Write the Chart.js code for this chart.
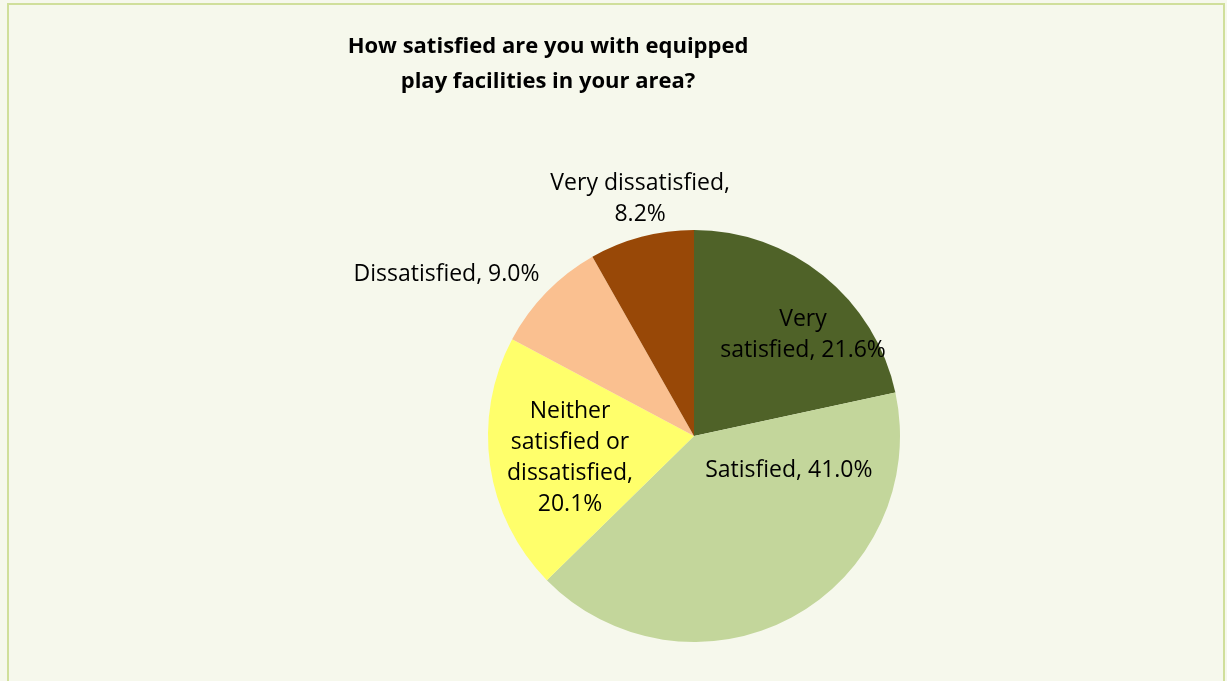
<!DOCTYPE html>
<html>
<head>
<meta charset="utf-8">
<script src="https://cdn.jsdelivr.net/npm/chart.js@4"></script>
<style>
  html, body { margin: 0; padding: 0; background: #F6F8EC; }
  #wrap { width: 1227px; height: 681px; position: relative; }
</style>
</head>
<body>
<div id="wrap"><canvas id="c" width="1227" height="681"></canvas></div>
<script>
// Survey answers, clockwise from 12 o'clock
const categories = ['Very satisfied', 'Satisfied', 'Neither satisfied or dissatisfied', 'Dissatisfied', 'Very dissatisfied'];
const shares = [21.6, 41.0, 20.1, 9.0, 8.2];
const labelLines = [
  ['Very', 'satisfied, 21.6%'],
  ['Satisfied, 41.0%'],
  ['Neither', 'satisfied or', 'dissatisfied,', '20.1%'],
  ['Dissatisfied, 9.0%'],
  ['Very dissatisfied,', '8.2%']
];
const titleLines = ['How satisfied are you with equipped', 'play facilities in your area?'];

const sliceColors = ['#4F6228', '#C3D69B', '#FFFF6B', '#FAC090', '#984807'];
// label anchor for each slice: angle (degrees clockwise from top) and distance in radii
const labelPlace = [
  { deg: 47.3, r: 0.72 },
  { deg: 110, r: 0.49 },
  { deg: 260, r: 0.611 },
  { deg: 303.2, r: 1.436 },
  { deg: 347.2, r: 1.18 }
];

const FONT = '"Open Sans", "Noto Sans", sans-serif';

const frame = {
  id: 'frame',
  beforeDraw(chart) {
    const ctx = chart.ctx;
    ctx.save();
    ctx.fillStyle = '#F6F8EC';
    ctx.fillRect(0, 0, chart.width, chart.height);
    ctx.strokeStyle = '#D0DF9B';
    ctx.lineWidth = 2;
    ctx.strokeRect(8, 4, 1216, 700);
    ctx.restore();
  },
  afterDraw(chart) {
    const ctx = chart.ctx;
    ctx.save();
    ctx.fillStyle = '#000000';
    ctx.textAlign = 'center';
    ctx.textBaseline = 'middle';
    ctx.font = 'bold 22px ' + FONT;
    titleLines.forEach((t, i) => ctx.fillText(t, 548, 47 + i * 35));

    const meta = chart.getDatasetMeta(0);
    ctx.font = '23px ' + FONT;
    meta.data.forEach((arc, i) => {
      const p = labelPlace[i];
      const a = p.deg * Math.PI / 180;
      const cx = arc.x + Math.sin(a) * arc.outerRadius * p.r;
      const cy = arc.y - Math.cos(a) * arc.outerRadius * p.r;
      const lines = labelLines[i];
      const lh = 31;
      lines.forEach((l, j) => {
        ctx.fillText(l, cx, cy + (j - (lines.length - 1) / 2) * lh);
      });
    });
    ctx.restore();
  }
};

new Chart(document.getElementById('c'), {
  type: 'pie',
  data: {
    labels: categories,
    datasets: [{
      data: shares,
      backgroundColor: sliceColors,
      borderWidth: 0
    }]
  },
  options: {
    responsive: false,
    animation: false,
    rotation: 0,
    layout: { padding: { left: 488, right: 327, top: 230, bottom: 39 } },
    plugins: {
      legend: { display: false },
      title: { display: false },
      tooltip: { enabled: false }
    }
  },
  plugins: [frame]
});
</script>
</body>
</html>
